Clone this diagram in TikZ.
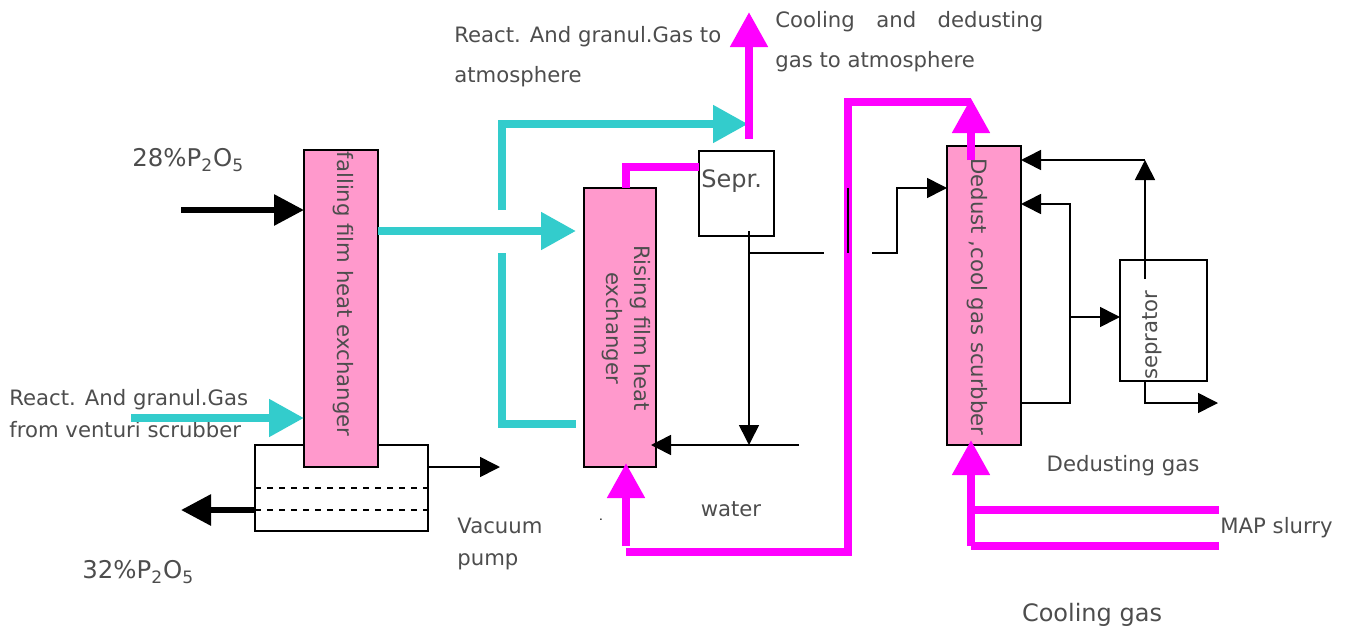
\documentclass[tikz,border=0pt]{standalone}
\usepackage{fontspec}
\setmainfont{DejaVu Sans}
\usetikzlibrary{arrows.meta}
\definecolor{pinkfill}{HTML}{FF99CC}
\definecolor{tealpipe}{HTML}{33CCCC}
\definecolor{magpipe}{HTML}{FF00FF}
\definecolor{txtgrey}{HTML}{4D4D4D}
\tikzset{unit/.style={draw,rectangle,anchor=north west,line width=0.8pt,outer sep=0pt,inner sep=0pt}}
\tikzset{column/.style={unit,fill=pinkfill}}
\tikzset{txt/.style={text=txtgrey,inner sep=0pt,font=\fontsize{10.6}{20}\selectfont,align=left}}
\tikzset{tealflow/.style={draw=tealpipe,line width=4pt}}
\tikzset{magflow/.style={draw=magpipe,line width=4pt}}
\tikzset{tealhead/.style={-{Triangle[length=17.5pt,width=18pt,color=tealpipe]}}}
\tikzset{maghead/.style={-{Triangle[length=17.5pt,width=18pt,color=magpipe]}}}
\tikzset{bighead/.style={-{Triangle[length=15pt,width=15pt]},line width=3pt}}
\tikzset{thin flow/.style={line width=0.8pt}}
\tikzset{smallhead/.style={thin flow,-{Triangle[length=10pt,width=10pt]}}}
\begin{document}
\begin{tikzpicture}[x=0.5pt,y=-0.5pt]
	\useasboundingbox (0,0) rectangle (1350,627);
	
	\node[unit,minimum width=86.5pt,minimum height=43pt] (vacuum) at (255,445) {};
	\node[column,minimum width=37pt,minimum height=158.5pt] (falling) at (304,150) {};
	\node[column,minimum width=36pt,minimum height=139.5pt] (rising) at (584,188) {};
	\node[unit,minimum width=37.5pt,minimum height=42.5pt] (sepr) at (699,151) {};
	\node[column,minimum width=37pt,minimum height=149.5pt] (dedust) at (947,146) {};
	\node[unit,minimum width=43.5pt,minimum height=60.5pt] (seprator) at (1120,260) {};
	
	\node[txt,rotate=-90] (fallingtxt) at (343,294) {falling film heat exchanger};
	\node[txt,rotate=-90,align=center,font=\fontsize{10.6}{14}\selectfont] (risingtxt) at (626,328) {Rising film heat\\exchanger};
	\node[txt,anchor=west,font=\fontsize{12}{14}\selectfont] (seprtxt) at (701,181) {Sepr.};
	\node[txt,rotate=-90] (dedusttxt) at (977,297) {Dedust ,cool gas scurbber};
	\node[txt,rotate=90] (seprtortxt) at (1152,335) {seprator};
	
	\node[txt,anchor=west,font=\fontsize{12.2}{14}\selectfont] (pin) at (132,160) {28\%P\textsubscript{2}O\textsubscript{5}};
	\node[txt,anchor=west,font=\fontsize{12.2}{14}\selectfont] (pout) at (82,572) {32\%P\textsubscript{2}O\textsubscript{5}};
	\node[txt,anchor=west] (gasin) at (9,414) {React. And granul.Gas\\[-4pt]from venturi scrubber};
	\node[txt,anchor=west] (gasout) at (454,57) {React. And granul.Gas to\\atmosphere};
	\node[txt,anchor=west] (coolout) at (775,42) {Cooling\hspace{10.75pt}and\hspace{10.75pt}dedusting\\gas to atmosphere};
	\node[txt,anchor=west,font=\fontsize{10.6}{16}\selectfont] (vac) at (457,544) {Vacuum\\pump};
	\node[txt] (water) at (731,509) {water};
	\node[txt] (dgas) at (1123,466) {Dedusting gas};
	\node[txt,anchor=west] (map) at (1220,528) {MAP slurry};
	\node[txt,font=\fontsize{12}{14}\selectfont] (cgas) at (1092,615) {Cooling gas};
	\node[inner sep=0pt,font=\fontsize{6}{6}\selectfont] (dot) at (601,520) {.};
	
	\coordinate (pinstart) at (181,210);
	\coordinate (gasstart) at (131,418);
	\coordinate (poutend) at (181,510);
	\coordinate (vacend) at (500,467);
	\coordinate (split) at (576,231);
	\coordinate (upstart) at (502,210);
	\coordinate (upend) at (748,124);
	\coordinate (lowstart) at (502,253);
	\coordinate (lowend) at (576,424);
	\coordinate (stackbase) at (749,139);
	\coordinate (stacktop) at (749,12);
	\coordinate (risein) at (626,546);
	\coordinate (risetip) at (626,463);
	\coordinate (loopstart) at (626,552);
	\coordinate (loopcorner) at (848,552);
	\coordinate (looptop) at (848,102);
	\coordinate (loopend) at (971,102);
	\coordinate (topbase) at (971,160);
	\coordinate (toptip) at (971,98);
	\coordinate (mapjoin) at (971,546);
	\coordinate (deduptip) at (971,440);
	\coordinate (mapa) at (1219,510);
	\coordinate (mapb) at (1219,546);
	\coordinate (sepdrop) at (749,231);
	\coordinate (waterjoin) at (749,445);
	\coordinate (waterend) at (799,445);
	\coordinate (watertip) at (651,445);
	\coordinate (branch) at (749,253);
	\coordinate (brancha) at (824,253);
	\coordinate (crossa) at (848,188);
	\coordinate (crossb) at (848,253);
	\coordinate (branchb) at (872,253);
	\coordinate (sepup) at (1145,279);
	\coordinate (septop) at (1145,160);
	\coordinate (sepout) at (1218,403);
	\coordinate (loopright) at (1070,403);
	
	% dashed levels
	\draw[dashed,thin flow] (vacuum.west |- 0,488) -- (vacuum.east |- 0,488);
	\draw[dashed,thin flow] (vacuum.west |- 0,510) -- (vacuum.east |- 0,510);
	
	% left side
	\draw[bighead] (pinstart) -- (falling.west |- pinstart);
	\draw[bighead] (vacuum.west |- poutend) -- (poutend);
	\draw[smallhead] (vacuum.east |- vacend) -- (vacend);
	\draw[tealflow,tealhead] (gasstart) -- (falling.west |- gasstart);
	
	% gas lines
	\draw[tealflow,tealhead] (falling.east |- split) -- (split);
	\draw[tealflow,tealhead] (upstart) |- (upend);
	\draw[tealflow] (lowstart) |- (lowend);
	
	\draw[magflow,maghead] (stackbase) -- (stacktop);
	\draw[magflow] (rising.north -| risein) |- (sepr.west |- 0,167);
	\draw[magflow,maghead] (risein) -- (risetip);
	\draw[magflow] (loopstart) -- (loopcorner) -- (looptop) -- (loopend);
	\draw[magflow,maghead] (topbase) -- (toptip);
	\draw[magflow,maghead] (mapjoin) -- (deduptip);
	\draw[magflow] (mapjoin |- mapa) -- (mapa);
	\draw[magflow] (mapjoin) -- (mapb);
	
	% water and liquor
	\draw[smallhead] (sepdrop) -- (waterjoin);
	\draw[smallhead] (waterend) -- (watertip);
	\draw[thin flow] (branch) -- (brancha);
	\draw[thin flow] (crossa) -- (crossb);
	\draw[smallhead] (branchb) -| (897,188) -- (dedust.west |- 0,188);
	\draw[smallhead] (dedust.east |- loopright) -- (loopright) |- (dedust.east |- 0,204);
	\draw[smallhead] (1070,317) -- (seprator.west |- 0,317);
	\draw[smallhead] (sepup) -- (septop);
	\draw[smallhead] (septop) -- (dedust.east |- septop);
	\draw[smallhead] (seprator.south -| sepup) |- (sepout);
\end{tikzpicture}
\end{document}
